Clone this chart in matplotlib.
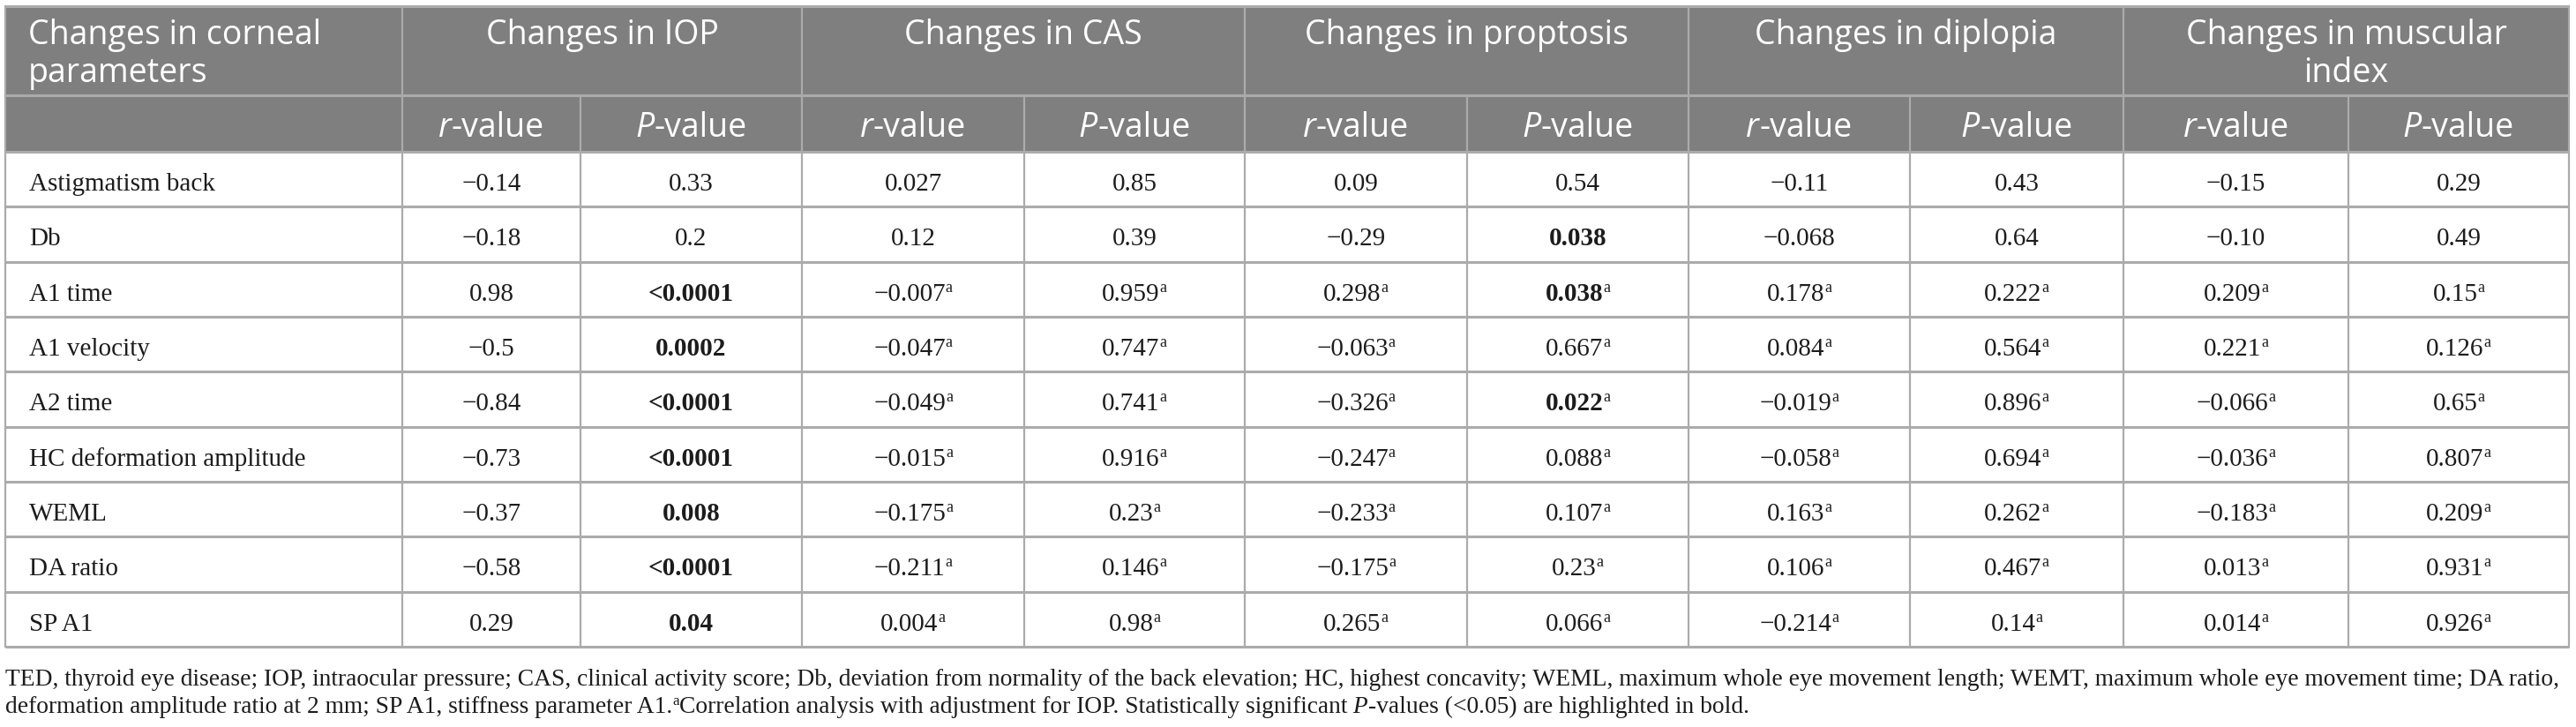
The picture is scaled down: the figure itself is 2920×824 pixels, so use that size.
import matplotlib
matplotlib.use("Agg")
import matplotlib.pyplot as plt
from matplotlib.patches import Rectangle

# table content
params = ["Astigmatism back", "Db", "A1 time", "A1 velocity", "A2 time",
          "HC deformation amplitude", "WEML", "DA ratio", "SP A1"]
groups = ["Changes in IOP", "Changes in CAS", "Changes in proptosis",
          "Changes in diplopia", "Changes in muscular\nindex"]
first_head = "Changes in corneal\nparameters"

iop_r = ["\u22120.14", "\u22120.18", "0.98", "\u22120.5", "\u22120.84", "\u22120.73", "\u22120.37", "\u22120.58", "0.29"]
iop_p = ["0.33", "0.2", "<0.0001", "0.0002", "<0.0001", "<0.0001", "0.008", "<0.0001", "0.04"]
cas_r = ["0.027", "0.12", "\u22120.007", "\u22120.047", "\u22120.049", "\u22120.015", "\u22120.175", "\u22120.211", "0.004"]
cas_p = ["0.85", "0.39", "0.959", "0.747", "0.741", "0.916", "0.23", "0.146", "0.98"]
prop_r = ["0.09", "\u22120.29", "0.298", "\u22120.063", "\u22120.326", "\u22120.247", "\u22120.233", "\u22120.175", "0.265"]
prop_p = ["0.54", "0.038", "0.038", "0.667", "0.022", "0.088", "0.107", "0.23", "0.066"]
dip_r = ["\u22120.11", "\u22120.068", "0.178", "0.084", "\u22120.019", "\u22120.058", "0.163", "0.106", "\u22120.214"]
dip_p = ["0.43", "0.64", "0.222", "0.564", "0.896", "0.694", "0.262", "0.467", "0.14"]
mus_r = ["\u22120.15", "\u22120.10", "0.209", "0.221", "\u22120.066", "\u22120.036", "\u22120.183", "0.013", "0.014"]
mus_p = ["0.29", "0.49", "0.15", "0.126", "0.65", "0.807", "0.209", "0.931", "0.926"]

# rows adjusted for IOP get the superscript a (all columns except IOP)
adjusted = [False, False, True, True, True, True, True, True, True]
# bold (significant) cells: (row, column index in value columns)
bold_cells = {(2, 1), (3, 1), (4, 1), (5, 1), (6, 1), (7, 1), (8, 1),
              (1, 5), (2, 5), (4, 5)}

foot1 = ("TED, thyroid eye disease; IOP, intraocular pressure; CAS, clinical activity score; "
         "Db, deviation from normality of the back elevation; HC, highest concavity; "
         "WEML, maximum whole eye movement length; WEMT, maximum whole eye movement time; DA ratio,")
foot2a = "deformation amplitude ratio at 2 mm; SP A1, stiffness parameter A1."
foot2b = "Correlation analysis with adjustment for IOP. Statistically significant"
foot2c = "-values (<0.05) are highlighted in bold."

columns = [iop_r, iop_p, cas_r, cas_p, prop_r, prop_p, dip_r, dip_p, mus_r, mus_p]

# layout in pixels
W, H = 2920, 824
xs = [6, 456, 658, 909, 1161, 1411, 1663, 1914, 2165, 2407, 2662, 2912]
top, head1, head2 = 7, 108, 172
row_h = (733 - head2) / 9
ys = [head2 + i * row_h for i in range(len(params) + 1)]

head_bg = "#7f7f7f"
line_c = "#ababab"
ink = "#1c1c1c"
sans = "Open Sans"
serif = "Liberation Serif"

fig = plt.figure(figsize=(W / 100, H / 100), dpi=100)
ax = fig.add_axes([0, 0, 1, 1])
ax.set_xlim(0, W)
ax.set_ylim(H, 0)
ax.axis("off")
rend = fig.canvas.get_renderer()


def runs(x, y, parts, ha="center"):
    # parts: (text, props, dy) drawn side by side, baseline aligned
    items = []
    for s, props, dy in parts:
        t = ax.text(0, y + dy, s, va="baseline", ha="left", **props)
        items.append((t, t.get_window_extent(renderer=rend).width))
    total = sum(w for _, w in items)
    x0 = x - total / 2 if ha == "center" else x
    for t, w in items:
        t.set_x(x0)
        x0 += w
    return total


# header background
ax.add_patch(Rectangle((xs[0], top), xs[-1] - xs[0], head2 - top, color=head_bg, lw=0))

hsize = 27
hprops = dict(fontfamily=sans, fontsize=hsize, color="white")
for k, ln in enumerate(first_head.split("\n")):
    ax.text(xs[0] + 26, 50 + k * 43, ln, va="baseline", ha="left", **hprops)
for g, name in enumerate(groups):
    cx = (xs[1 + 2 * g] + xs[3 + 2 * g]) / 2
    for k, ln in enumerate(name.split("\n")):
        ax.text(cx, 50 + k * 43, ln, va="baseline", ha="center", **hprops)
    for j, lab in enumerate(["r", "P"]):
        cx2 = (xs[1 + 2 * g + j] + xs[2 + 2 * g + j]) / 2
        runs(cx2, 155, [(lab, dict(hprops, fontstyle="italic"), 0),
                        ("-value", hprops, 0)])

# body cells
bsize = 21
for i, name in enumerate(params):
    base = ys[i] + 44
    ax.text(xs[0] + 27, base, name, va="baseline", ha="left",
            fontfamily=serif, fontsize=bsize, color=ink)
    for c, col in enumerate(columns):
        cx = (xs[1 + c] + xs[2 + c]) / 2
        props = dict(fontfamily=serif, fontsize=bsize, color=ink,
                     fontweight="bold" if (i, c) in bold_cells else "normal")
        parts = [(col[i], props, 0)]
        if adjusted[i] and c >= 2:
            parts.append(("a", dict(fontfamily=serif, fontsize=bsize * 0.62,
                                    color=ink), -10))
        runs(cx, base, parts)

# grid lines
lw_h, lw_v = 2.2, 1.6
for y in [top, head1] + ys:
    ax.plot([xs[0], xs[-1]], [y, y], color=line_c, lw=lw_h, solid_capstyle="butt")
for x in [xs[0], xs[1], xs[3], xs[5], xs[7], xs[9], xs[-1]]:
    ax.plot([x, x], [top, head1], color=line_c, lw=lw_v)
for x in xs:
    ax.plot([x, x], [head1, ys[-1]], color=line_c, lw=lw_v)

# footnote, sized so the first line fills the table width
fsize = 19
t1 = ax.text(xs[0], 777, foot1, va="baseline", ha="left",
             fontfamily=serif, fontsize=fsize, color=ink)
w1 = t1.get_window_extent(renderer=rend).width
fsize = fsize * (2894 / w1)
t1.set_fontsize(fsize)
fp = dict(fontfamily=serif, fontsize=fsize, color=ink)
runs(xs[0], 808, [(foot2a, fp, 0),
                  ("a", dict(fp, fontsize=fsize * 0.62), -9),
                  (foot2b, fp, 0),
                  (" P", dict(fp, fontstyle="italic"), 0),
                  (foot2c, fp, 0)], ha="left")

fig.savefig("out.png", dpi=100, facecolor="white")
